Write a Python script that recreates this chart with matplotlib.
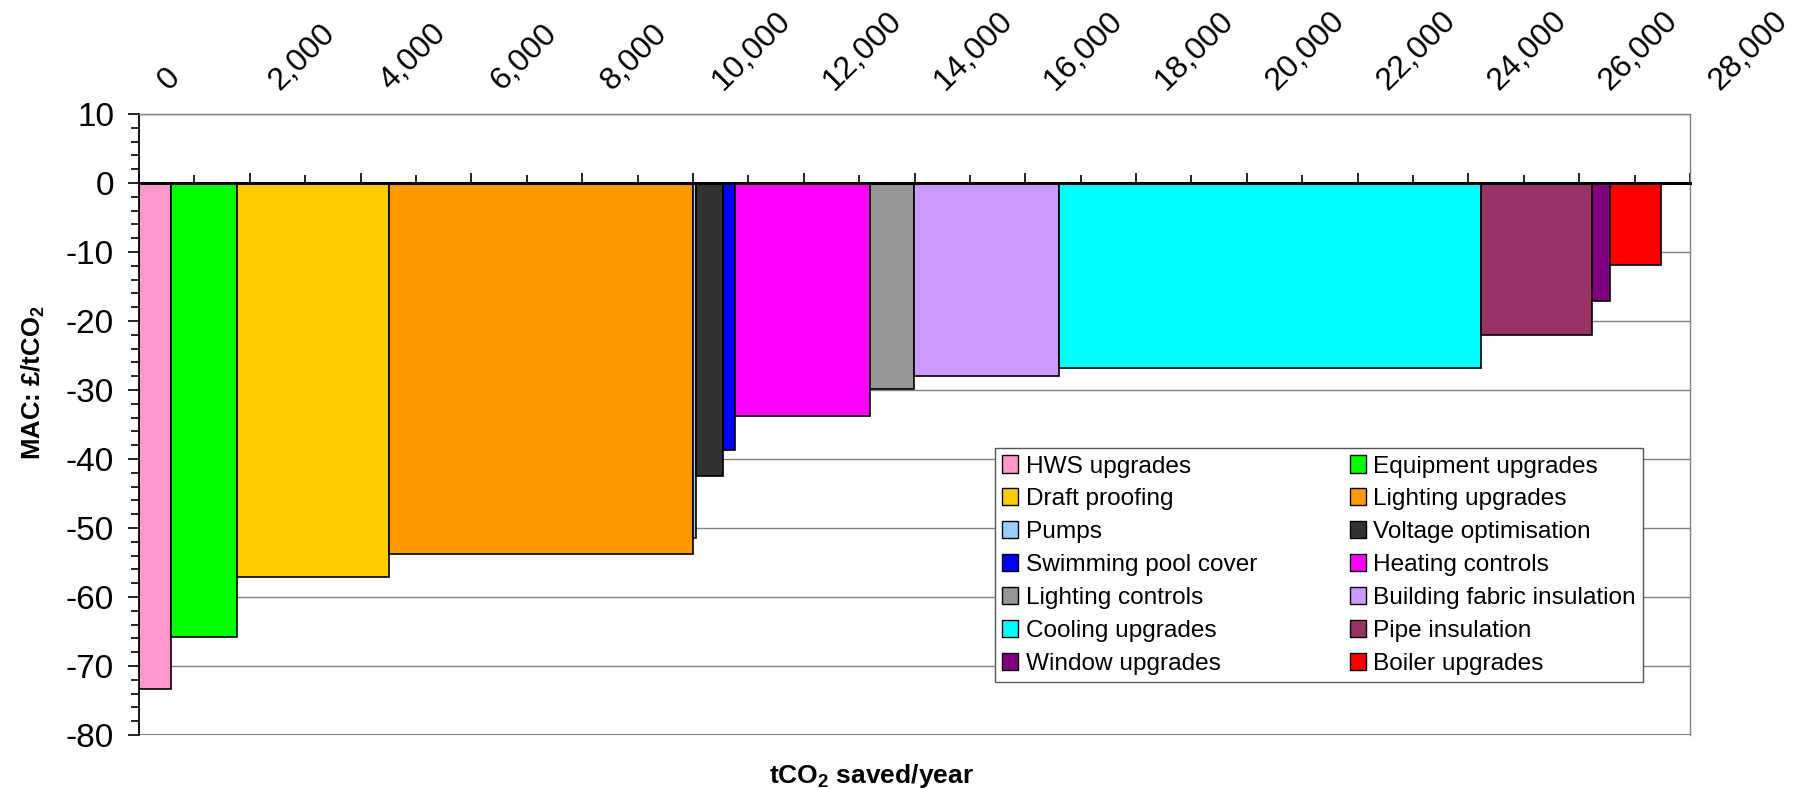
import numpy as np
import matplotlib
matplotlib.use('Agg')
import matplotlib.pyplot as plt
import matplotlib.transforms as mtransforms
from matplotlib.patches import Patch
from matplotlib.ticker import MultipleLocator

plt.rcParams['font.family'] = ['Liberation Sans', 'DejaVu Sans']
plt.rcParams['axes.unicode_minus'] = False
plt.rcParams['mathtext.fontset'] = 'custom'
plt.rcParams['mathtext.rm'] = 'Liberation Sans'
plt.rcParams['mathtext.bf'] = 'Liberation Sans:bold'

#Donnees
measures = ['HWS upgrades', 'Equipment upgrades', 'Draft proofing', 'Lighting upgrades',
            'Pumps', 'Voltage optimisation', 'Swimming pool cover', 'Heating controls',
            'Lighting controls', 'Building fabric insulation', 'Cooling upgrades',
            'Pipe insulation', 'Window upgrades', 'Boiler upgrades']
savings = [572, 1204, 2739, 5487, 55, 493, 202, 2444, 794, 2618, 7611, 2004, 334, 912]
mac = [-73.3, -65.8, -57.1, -53.8, -51.5, -42.4, -38.7, -33.7, -29.9, -28.0, -26.8, -22.0, -17.1, -11.9]
colors = ['#FF99CC', '#00FF00', '#FFCC00', '#FF9900', '#99CCFF', '#333333', '#0000FF',
          '#FF00FF', '#969696', '#CC99FF', '#00FFFF', '#993366', '#800080', '#FF0000']
top_ticks = list(range(0, 28001, 2000))
y_ticks = list(range(-80, 11, 10))

#Figure
fig = plt.figure(figsize=(18.02, 7.89), dpi=100)
ax = fig.add_axes([139/1802, 1-735/789, (1690-139)/1802, (735-114)/789])

lefts = np.concatenate([[0], np.cumsum(savings)[:-1]])
ax.bar(lefts, mac, width=savings, align='edge', color=colors,
       edgecolor='black', linewidth=1.2, zorder=2)

ax.set_xlim(0, 28000)
ax.set_ylim(-80, 10)
ax.set_yticks(y_ticks)
ax.yaxis.set_minor_locator(MultipleLocator(2))
ax.grid(axis='y', color='#808080', linewidth=1)
ax.set_axisbelow(True)

#Axes et bordures
ax.spines['bottom'].set_position(('data', 0))
ax.spines['bottom'].set_linewidth(2.2)
ax.spines['bottom'].set_zorder(4)
ax.spines['left'].set_linewidth(1.3)
for s in ['top', 'right']:
    ax.spines[s].set_color('#808080')
    ax.spines[s].set_linewidth(1)
ax.axhline(-80, color='#808080', linewidth=1.5, zorder=1)

ax.xaxis.set_major_locator(MultipleLocator(2000))
ax.xaxis.set_minor_locator(MultipleLocator(1000))
ax.tick_params(axis='x', which='both', direction='in', labelbottom=False, width=1.2)
ax.tick_params(axis='x', which='major', length=7.5)
ax.tick_params(axis='x', which='minor', length=6)
ax.tick_params(axis='y', which='major', length=8, width=1.2, labelsize=24, pad=10)
ax.tick_params(axis='y', which='minor', length=5.5, width=1.2)

#Etiquettes du haut
offset = mtransforms.ScaledTranslation(0.30, 0.23, fig.dpi_scale_trans)
trans = mtransforms.blended_transform_factory(ax.transData, ax.transAxes) + offset
for v in top_ticks:
    ax.text(v, 1, f'{v:,}', transform=trans, rotation=45, rotation_mode='anchor',
            ha='left', va='baseline', fontsize=23)

ax.set_ylabel(r'MAC: £/tCO$_\mathbf{2}$', fontsize=18.5, fontweight='bold')
ax.yaxis.set_label_coords(-0.059, 0.567)
fig.text(871/1802, 1-776/789, r'tCO$_\mathbf{2}$ saved/year', fontsize=19,
         fontweight='bold', ha='center', va='center')

#Legende
handles = [Patch(facecolor=c, edgecolor='black', linewidth=1) for c in colors]
order = list(range(0, 14, 2)) + list(range(1, 14, 2))
leg = ax.legend([handles[i] for i in order], [measures[i] for i in order],
                ncol=2, loc='upper left', bbox_to_anchor=(0.552, 0.462),
                fontsize=17.6, frameon=True, fancybox=False, framealpha=1,
                edgecolor='#555555', handlelength=0.65, handleheight=0.7,
                handletextpad=0.3, columnspacing=3.8, labelspacing=0.44,
                borderpad=0.3, borderaxespad=0)
leg.get_frame().set_linewidth(1)
leg.set_zorder(5)

plt.savefig('out.png', dpi=100)
